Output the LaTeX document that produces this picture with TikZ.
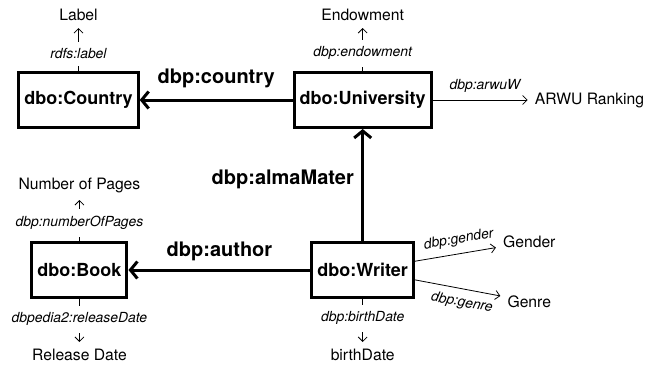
\documentclass[tikz,border=0pt]{standalone}
\usepackage{fontspec}
\setmainfont{TeX Gyre Heros}
\usetikzlibrary{positioning,arrows.meta}

\tikzstyle{cbox}=[rectangle, draw=black, line width=3pt, minimum height=55pt,
                  inner xsep=5.5pt, font=\fontsize{18}{22}\selectfont\bfseries]
\tikzstyle{abox}=[inner sep=7pt, font=\fontsize{15.7}{19}\selectfont]
\tikzstyle{plabel}=[fill=white, inner sep=7pt, font=\fontsize{13.9}{17}\selectfont\itshape]
\tikzstyle{elabel}=[font=\fontsize{20}{24}\selectfont\bfseries]
\tikzstyle{rline}=[-{Straight Barb[length=7pt,width=17pt]}, line width=3pt]
\tikzstyle{aline}=[-{Straight Barb[length=4.5pt,width=9pt]}, line width=0.8pt]

\begin{document}
\begin{tikzpicture}
\useasboundingbox (0,0) rectangle (646pt,-367pt);

% classes
\node (Country) [cbox] at (78.5pt,-100pt) {dbo:Country};
\node (University) [cbox, right=153pt of Country] {dbo:University};
\node (Writer) [cbox, below=112pt of University] {dbo:Writer};
\node (Book) [cbox, left=182pt of Writer] {dbo:Book};

% literal values
\node (Label) [abox, above=43pt of Country] {Label};
\node (Endowment) [abox, above=43pt of University] {Endowment};
\node (ARWU) [abox, right=95pt of University] {ARWU Ranking};
\node (Pages) [abox, above=41pt of Book] {Number of Pages};
\node (Release) [abox, below=43pt of Book] {Release Date};
\node (Birth) [abox, below=43pt of Writer] {birthDate};
\node (Gender) [abox, right=81pt of Writer, yshift=28pt] {Gender};
\node (Genre) [abox, below=33pt of Gender] {Genre};

% object properties
\draw[rline] (University) -- node[elabel, above=7pt] {dbp:country} (Country);
\draw[rline] (Writer) -- node[elabel, above=4pt] {dbp:author} (Book);
\draw[rline] (Writer) -- node[elabel, left=4pt, pos=.55] {dbp:almaMater} (University);

% data properties
\draw[aline] (Country) -- node[plabel, pos=.4] {rdfs:label} (Label);
\draw[aline] (University) -- node[plabel, pos=.41] {dbp:endowment} (Endowment);
\draw[aline] (University) -- node[plabel, fill=none, above=0pt, pos=.55] {dbp:arwuW} (ARWU);
\draw[aline] (Book) -- node[plabel, pos=.44] {dbp:numberOfPages} (Pages);
\draw[aline] (Book) -- node[plabel, pos=.47] {dbpedia2:releaseDate} (Release);
\draw[aline] (Writer) -- node[plabel, pos=.45] {dbp:birthDate} (Birth);
\draw[aline] (Writer) -- node[plabel, fill=none, sloped, above=0pt, pos=.57] {dbp:gender} (Gender);
\draw[aline] (Writer) -- node[plabel, fill=none, sloped, below=0pt, pos=.58] {dbp:genre} (Genre);

\end{tikzpicture}
\end{document}
